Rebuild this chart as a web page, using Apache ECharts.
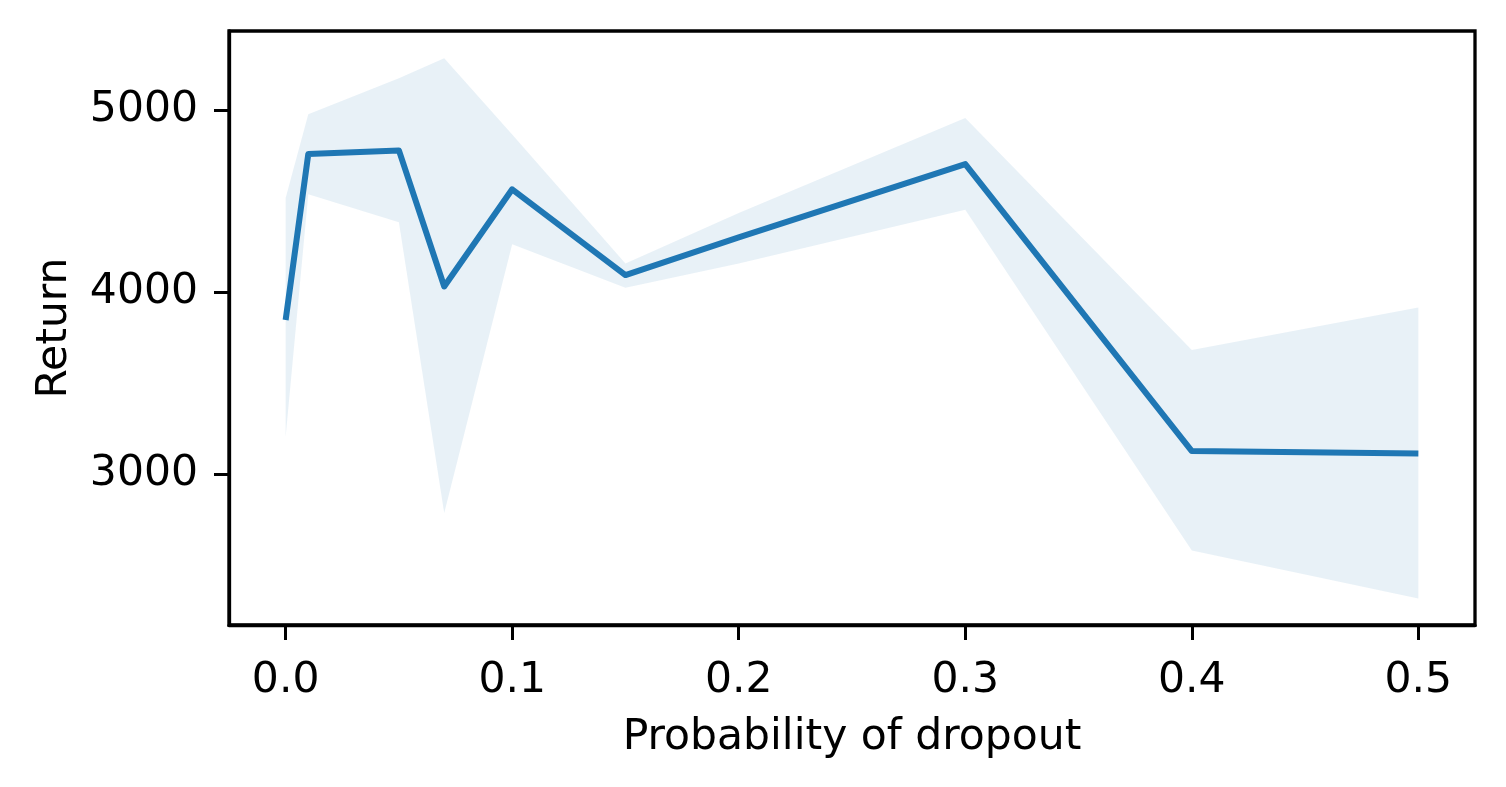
<!DOCTYPE html>
<html>
<head>
<meta charset="utf-8">
<script src="https://cdn.jsdelivr.net/npm/echarts@6/dist/echarts.min.js"></script>
<style>
html,body{margin:0;padding:0;background:#fff;}
#chart{width:1506px;height:787px;}
</style>
</head>
<body>
<div id="chart"></div>
<script>
// Data
const dropout = [0.0, 0.01, 0.05, 0.07, 0.1, 0.15, 0.2, 0.3, 0.4, 0.5];
const meanReturn = [3846, 4758, 4778, 4030, 4564, 4093, 4300, 4703, 3126, 3112];
const upperReturn = [4516, 4976, 5175, 5284, 4865, 4157, 4434, 4956, 3681, 3914];
const lowerReturn = [3205, 4537, 4383, 2786, 4262, 4023, 4157, 4452, 2580, 2316];
const xTicks = [0.0, 0.1, 0.2, 0.3, 0.4, 0.5];
const yTicks = [3000, 4000, 5000];

const FONT = 'DejaVu Sans';
const FS = 42.5;

const bandData = dropout.map((x, i) => [x, lowerReturn[i], upperReturn[i]]);
const meanData = dropout.map((x, i) => [x, meanReturn[i]]);

const chart = echarts.init(document.getElementById('chart'), null, {renderer: 'canvas'});
chart.setOption({
  animation: false,
  backgroundColor: '#ffffff',
  grid: {
    left: 229, right: 31, top: 31, bottom: 162,
    show: true, borderColor: '#000', borderWidth: 3.3, backgroundColor: 'transparent'
  },
  xAxis: {
    type: 'value',
    min: -0.025, max: 0.525,
    splitLine: {show: false},
    axisLine: {show: true, onZero: false, lineStyle: {color: '#000', width: 3.3}},
    axisTick: {show: true, inside: false, length: 15, lineStyle: {color: '#000', width: 3}, customValues: xTicks},
    axisLabel: {
      customValues: xTicks,
      formatter: v => v.toFixed(1),
      color: '#000', fontFamily: FONT, fontSize: FS, margin: 34
    },
    name: 'Probability of dropout',
    nameLocation: 'middle',
    nameGap: 91,
    nameTextStyle: {color: '#000', fontFamily: FONT, fontSize: FS}
  },
  yAxis: {
    type: 'value',
    min: 2170, max: 5434,
    splitLine: {show: false},
    axisLine: {show: true, onZero: false, lineStyle: {color: '#000', width: 3.3}},
    axisTick: {show: true, inside: false, length: 15, lineStyle: {color: '#000', width: 3}, customValues: yTicks},
    axisLabel: {
      customValues: yTicks,
      formatter: v => String(v),
      color: '#000', fontFamily: FONT, fontSize: FS, margin: 31
    },
    name: 'Return',
    nameLocation: 'middle',
    nameGap: 153,
    nameRotate: 90,
    nameTextStyle: {color: '#000', fontFamily: FONT, fontSize: FS}
  },
  series: [
    {
      type: 'custom',
      name: 'band',
      data: bandData,
      silent: true,
      z: 1,
      encode: {x: 0, y: [1, 2]},
      renderItem: function (params, api) {
        if (params.dataIndex !== 0) return null;
        const pts = [];
        for (let i = 0; i < bandData.length; i++) {
          pts.push(api.coord([bandData[i][0], bandData[i][2]]));
        }
        for (let i = bandData.length - 1; i >= 0; i--) {
          pts.push(api.coord([bandData[i][0], bandData[i][1]]));
        }
        return {
          type: 'polygon',
          shape: {points: pts},
          style: {fill: 'rgba(31,119,180,0.1)', stroke: null}
        };
      }
    },
    {
      type: 'line', name: 'mean', data: meanData,
      symbol: 'none',
      lineStyle: {color: '#1f77b4', width: 6, cap: 'butt', join: 'round'}, z: 3
    }
  ]
});
</script>
</body>
</html>
